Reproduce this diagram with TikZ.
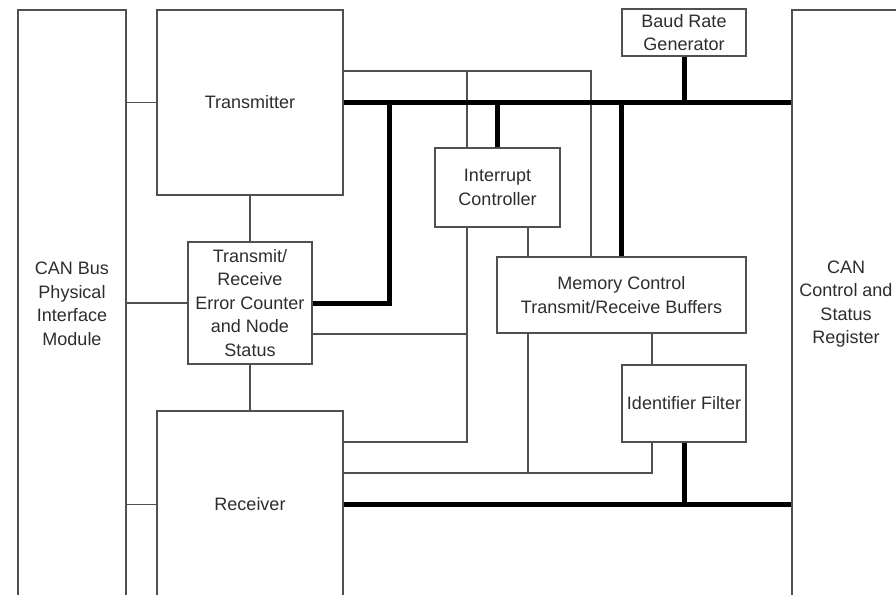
\documentclass[tikz,border=0pt]{standalone}
\usepackage{fontspec}
\setmainfont{Liberation Sans}
\definecolor{cnLine}{RGB}{80,80,80}
\definecolor{cnText}{RGB}{45,45,45}

\begin{document}
\begin{tikzpicture}[x=1pt, y=-1pt, font=\fontsize{18}{23.5}\selectfont,
    blk/.style={draw=cnLine, line width=1.2pt, align=center, text=cnText, inner sep=2pt},
    wire/.style={draw=cnLine, line width=1.2pt},
    bus/.style={draw=black, line width=5pt}]
    \useasboundingbox (0,0) rectangle (896,594);
    \clip (0,0) rectangle (896,594);
    % side modules
    \node[blk, minimum width=108pt, minimum height=588pt] (phy) at (72,304)
      {CAN Bus\\ Physical\\ Interface\\ Module};
    \node[blk, minimum width=108pt, minimum height=588pt] (reg) at (846,304)
      {CAN\\ Control and\\ Status\\ Register};
    % inner blocks
    \node[blk, minimum width=186pt, minimum height=185pt] (tx) at (250,102.5) {Transmitter};
    \node[blk, minimum width=124pt, minimum height=122pt] (ecnt) at (250,303)
      {Transmit/\\ Receive\\ Error Counter\\ and Node\\ Status};
    \node[blk, minimum width=186pt, minimum height=187pt] (rx) at (250,504.5) {Receiver};
    \node[blk, minimum width=125pt, minimum height=79pt] (irq) at (497.5,187.5)
      {Interrupt\\ Controller};
    \node[blk, minimum width=124pt, minimum height=47pt] (baud) at (684,32.5)
      {Baud Rate\\ Generator};
    \node[blk, minimum width=249pt, minimum height=76pt] (mem) at (621.5,295)
      {Memory Control\\ Transmit/Receive Buffers};
    \node[blk, minimum width=124pt, minimum height=77pt] (idf) at (684,403.5)
      {Identifier Filter};
    % columns and rows of the thin links
    \coordinate (colE) at (389,0);
    \coordinate (colI) at (467,71);
    \coordinate (colM) at (591,71);
    \coordinate (colC) at (528,0);
    \coordinate (colF) at (652,0);
    \coordinate (rowS) at (0,334);
    \coordinate (rowA) at (0,442);
    \coordinate (rowB) at (0,473);
    % thin links
    \draw[wire] (tx.west) -- (tx.west -| phy.east);
    \draw[wire] (ecnt.west) -- (ecnt.west -| phy.east);
    \draw[wire] (rx.west) -- (rx.west -| phy.east);
    \draw[wire] (tx.south) -- (ecnt.north);
    \draw[wire] (ecnt.south) -- (rx.north);
    \draw[wire] (tx.east |- colI) -| (colM |- mem.north);
    \draw[wire] (colI) -- (colI |- irq.north);
    \draw[wire] (colI |- irq.south) |- (rx.east |- rowA);
    \draw[wire] (ecnt.east |- rowS) -- (colI |- rowS);
    \draw[wire] (colC |- irq.south) -- (colC |- mem.north);
    \draw[wire] (colC |- mem.south) -- (colC |- rowB);
    \draw[wire] (colF |- mem.south) -- (colF |- idf.north);
    \draw[wire] (colF |- idf.south) |- (rx.east |- rowB);
    % thick buses
    \draw[bus] (tx.east) -- (tx.east -| reg.west);
    \draw[bus] (baud.south) -- (baud.south |- tx.east);
    \draw[bus] (ecnt.east) -| (colE |- tx.east);
    \draw[bus] (irq.north) -- (irq.north |- tx.east);
    \draw[bus] (mem.north) -- (mem.north |- tx.east);
    \draw[bus] (rx.east) -- (rx.east -| reg.west);
    \draw[bus] (idf.south) -- (idf.south |- rx.east);
\end{tikzpicture}
\end{document}
